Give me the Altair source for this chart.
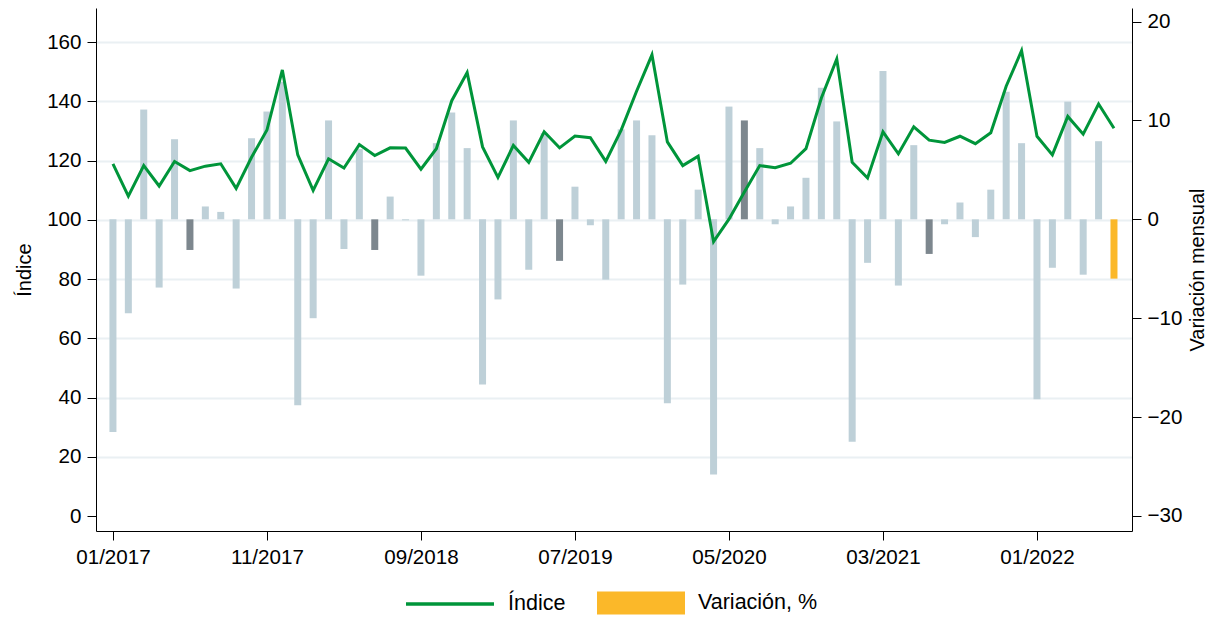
import json
import altair as alt
import pandas as pd

# ---- data ----
meses = [f"{m:02d}/{y}" for y in range(2017, 2023) for m in range(1, 13)][:66]

indice = [118.9, 108.0, 118.3, 111.4, 119.7, 116.6, 118.1, 118.9, 110.6, 121.1,
          130.3, 150.6, 121.9, 109.9, 120.6, 117.5, 125.4, 121.7, 124.3, 124.2,
          117.1, 124.0, 140.2, 149.7, 124.6, 114.3, 125.1, 119.4, 129.7, 124.3,
          128.3, 127.7, 119.7, 130.3, 143.4, 155.7, 126.3, 118.3, 121.5, 92.6,
          100.2, 109.4, 118.3, 117.6, 119.1, 124.0, 141.1, 154.3, 119.4, 114.1,
          129.7, 122.3, 131.4, 126.9, 126.1, 128.2, 125.7, 129.4, 145.1, 157.1,
          128.2, 121.9, 134.9, 128.9, 139.1, 130.9]

variacion = [-21.5, -9.5, 11.1, -6.9, 8.1, -3.1, 1.3, 0.75, -7.0, 8.2,
             10.9, 13.9, -18.8, -10.0, 10.0, -3.0, 7.1, -3.1, 2.3, -0.1,
             -5.7, 7.7, 10.8, 7.2, -16.7, -8.1, 10.0, -5.1, 8.7, -4.2,
             3.3, -0.6, -6.1, 9.1, 10.0, 8.5, -18.6, -6.6, 3.0, -25.8,
             11.4, 10.0, 7.2, -0.5, 1.3, 4.2, 13.3, 9.9, -22.5, -4.4,
             15.0, -6.7, 7.5, -3.5, -0.5, 1.7, -1.8, 3.0, 12.9, 7.7,
             -18.2, -4.9, 11.9, -5.6, 7.9, -6.0]

tick_meses = ["01/2017", "11/2017", "09/2018", "07/2019", "05/2020", "03/2021", "01/2022"]
ticks_indice = [0, 20, 40, 60, 80, 100, 120, 140, 160]
ticks_variacion = [-30, -20, -10, 0, 10, 20]

serie_linea = "Índice"
serie_barra = "Variación, %"

# ---- styling ----
FONT = "Liberation Sans"
VERDE = "#00953A"
NARANJA = "#FBB829"
GRIS_OSCURO = "#7D878E"
GRIS_CLARO = "#BED0D8"
GRID = "#EAF0F3"

grupo = []
for k, m in enumerate(meses):
    if k == len(meses) - 1:
        grupo.append(serie_barra)
    elif m.startswith("06/"):
        grupo.append("Junio")
    else:
        grupo.append("Otros")

df = pd.DataFrame({
    "i": list(range(len(meses))),
    "mes": meses,
    "indice": indice,
    "variacion": variacion,
    "grupo": grupo,
    "serie": [serie_linea] * len(meses),
})

label_expr = json.dumps(meses) + "[datum.value]"

x_enc = alt.X(
    "i:Q",
    scale=alt.Scale(domain=[-1.1, 66.17], nice=False, zero=False, padding=0),
    axis=alt.Axis(
        values=[meses.index(t) for t in tick_meses],
        labelExpr=label_expr,
        title=None,
        grid=False,
        tickSize=9,
        labelPadding=7,
        labelFlush=False,
    ),
)

bars = alt.Chart(df).mark_bar(size=7).encode(
    x=x_enc,
    y=alt.Y(
        "variacion:Q",
        scale=alt.Scale(domain=[-31.52, 21.37], nice=False, zero=False),
        axis=alt.Axis(
            orient="right",
            values=ticks_variacion,
            title="Variación mensual",
            titleAngle=270,
            titleBaseline="top",
            titlePadding=6,
            grid=False,
            tickSize=9,
            labelPadding=6,
        ),
    ),
    y2=alt.datum(0),
    fill=alt.Fill(
        "grupo:N",
        scale=alt.Scale(domain=[serie_barra, "Junio", "Otros"],
                        range=[NARANJA, GRIS_OSCURO, GRIS_CLARO]),
        legend=alt.Legend(
            values=[serie_barra],
            title=None,
            orient="none",
            legendX=501,
            legendY=551,
            symbolType="M-1,-0.26H1V0.26H-1Z",
            symbolSize=7744,
            symbolStrokeWidth=0,
            symbolOpacity=1,
            labelOffset=13,
        ),
    ),
)

line = alt.Chart(df).mark_line(strokeWidth=3).encode(
    x=x_enc,
    y=alt.Y(
        "indice:Q",
        scale=alt.Scale(domain=[-5.06, 171.5], nice=False, zero=False),
        axis=alt.Axis(
            orient="left",
            values=ticks_indice,
            title="Índice",
            titlePadding=12,
            grid=True,
            gridColor=GRID,
            gridWidth=2,
            gridOpacity={"condition": {"test": "datum.value === 0", "value": 0}, "value": 1},
            tickSize=9,
            labelPadding=6,
        ),
    ),
    stroke=alt.Stroke(
        "serie:N",
        scale=alt.Scale(domain=[serie_linea], range=[VERDE]),
        legend=alt.Legend(
            title=None,
            orient="none",
            legendX=308,
            legendY=550,
            symbolType="stroke",
            symbolSize=7744,
            symbolStrokeWidth=3.5,
            labelOffset=12,
        ),
    ),
)

chart = (
    alt.layer(bars, line)
    .resolve_scale(y="independent", fill="independent", stroke="independent")
    .properties(
        width=1036,
        height=523,
        autosize=alt.AutoSizeParams(type="none"),
        padding={"left": 88, "top": 0, "right": 75, "bottom": 84},
    )
    .configure_view(stroke=None)
    .configure_axis(
        labelFont=FONT,
        titleFont=FONT,
        labelFontSize=20.6,
        titleFontSize=20,
        titleFontWeight="normal",
        labelColor="black",
        titleColor="black",
        domainColor="black",
        domainWidth=1,
        tickColor="black",
        tickWidth=1,
    )
    .configure_legend(
        labelFont=FONT,
        labelFontSize=21.5,
        labelColor="black",
        padding=0,
    )
)

chart.save("out.html", embed_options={"renderer": "svg", "actions": False})
